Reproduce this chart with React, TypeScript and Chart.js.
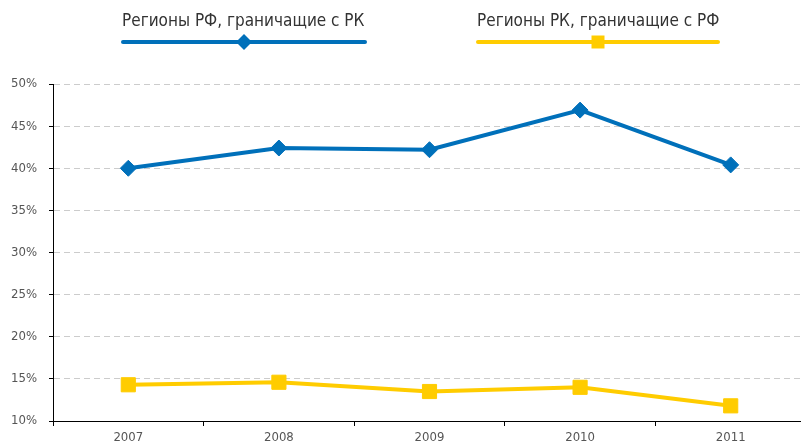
import React, { useEffect, useRef } from "react";
import { Chart, registerables } from "chart.js";

Chart.register(...registerables);

const years = ["2007", "2008", "2009", "2010", "2011"];
const ruBorderRegions = [40.0, 42.4, 42.2, 46.9, 40.4];
const kzBorderRegions = [14.3, 14.6, 13.5, 14.0, 11.8];
const seriesNames = ["Регионы РФ, граничащие с РК", "Регионы РК, граничащие с РФ"];

const BLUE = "#0070BA";
const YELLOW = "#FFCC00";
const FONT = "'Liberation Sans Narrow', 'DejaVu Sans Condensed', 'Noto Sans', sans-serif";

const legendPlugin = {
  id: "customLegend",
  afterDraw(chart: any) {
    const ctx = chart.ctx;
    const items = [
      { text: seriesNames[0], color: BLUE, x0: 122, x1: 366, shape: "diamond" },
      { text: seriesNames[1], color: YELLOW, x0: 477, x1: 719, shape: "square" },
    ];
    ctx.save();
    for (const it of items) {
      ctx.font = `17px ${FONT}`;
      ctx.fillStyle = "#333333";
      ctx.textBaseline = "middle";
      ctx.textAlign = "left";
      ctx.fillText(it.text, it.x0, 22);
      ctx.strokeStyle = it.color;
      ctx.lineWidth = 4;
      ctx.lineCap = "round";
      ctx.beginPath();
      ctx.moveTo(it.x0 + 1, 42);
      ctx.lineTo(it.x1 - 1, 42);
      ctx.stroke();
      const cx = (it.x0 + it.x1) / 2;
      ctx.fillStyle = it.color;
      ctx.beginPath();
      if (it.shape === "diamond") {
        ctx.moveTo(cx, 34);
        ctx.lineTo(cx + 8, 42);
        ctx.lineTo(cx, 50);
        ctx.lineTo(cx - 8, 42);
        ctx.closePath();
      } else {
        ctx.rect(cx - 6.5, 35.5, 13, 13);
      }
      ctx.fill();
    }
    ctx.restore();
  },
};

export default function App() {
  const ref = useRef<HTMLCanvasElement>(null);
  useEffect(() => {
    if (!ref.current) return;
    const chart = new Chart(ref.current, {
      type: "line",
      data: {
        labels: years,
        datasets: [
          {
            label: seriesNames[0],
            data: ruBorderRegions,
            borderColor: BLUE,
            backgroundColor: BLUE,
            borderWidth: 4,
            pointStyle: "rectRot",
            pointRadius: 8,
            pointBorderWidth: 1,
            pointBackgroundColor: BLUE,
            pointBorderColor: BLUE,
            tension: 0,
          },
          {
            label: seriesNames[1],
            data: kzBorderRegions,
            borderColor: YELLOW,
            backgroundColor: YELLOW,
            borderWidth: 4,
            pointStyle: "rect",
            pointRadius: 10,
            pointBorderWidth: 1,
            pointBackgroundColor: YELLOW,
            pointBorderColor: YELLOW,
            tension: 0,
          },
        ],
      },
      options: {
        animation: false,
        responsive: true,
        maintainAspectRatio: false,
        layout: { padding: { top: 84, left: 0, right: 0, bottom: 0 } },
        plugins: { legend: { display: false }, tooltip: { enabled: false } },
        scales: {
          x: {
            offset: true,
            grid: {
              offset: true,
              drawOnChartArea: false,
              drawTicks: true,
              tickLength: 5,
              tickColor: "#000",
              tickWidth: 1,
            },
            border: { display: true, color: "#000", width: 1 },
            ticks: {
              color: "#555",
              font: { family: FONT, size: 13 },
              padding: 4,
              maxRotation: 0,
            },
            afterFit(scale: any) {
              scale.height = 22;
            },
          },
          y: {
            min: 10,
            max: 50,
            ticks: {
              stepSize: 5,
              color: "#555",
              font: { family: FONT, size: 13 },
              padding: 12,
              callback: (v: any) => `${v}%`,
            },
            grid: {
              color: "#cccccc",
              lineWidth: 1,
              drawTicks: true,
              tickLength: 4,
              tickColor: "#000",
              tickBorderDash: [],
            },
            border: { display: true, color: "#000", width: 1, dash: [6, 4] },
            afterFit(scale: any) {
              scale.width = 53;
            },
          },
        },
      },
      plugins: [legendPlugin],
    });
    return () => chart.destroy();
  }, []);
  return (
    <div style={{ position: "absolute", left: 0, top: 0, width: 801, height: 443, overflow: "hidden", background: "#fff" }}>
      <div style={{ position: "relative", width: 817, height: 443 }}>
        <canvas ref={ref} />
      </div>
    </div>
  );
}
